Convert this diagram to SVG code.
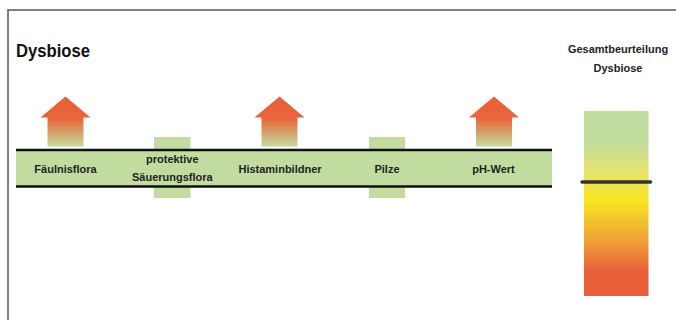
<svg xmlns="http://www.w3.org/2000/svg" width="676" height="320" viewBox="0 0 676 320">
<defs>
<linearGradient id="arrowGrad" x1="0" y1="0" x2="0" y2="1">
<stop offset="0" stop-color="#e9603a"/>
<stop offset="0.44" stop-color="#e9643a"/>
<stop offset="1" stop-color="#c4dc9c"/>
</linearGradient>
<linearGradient id="scaleGrad" x1="0" y1="0" x2="0" y2="1">
<stop offset="0" stop-color="#bfdba0"/>
<stop offset="0.17" stop-color="#c2dc9c"/>
<stop offset="0.34" stop-color="#e8e46a"/>
<stop offset="0.48" stop-color="#f8e622"/>
<stop offset="0.7" stop-color="#f0a236"/>
<stop offset="0.86" stop-color="#e9623a"/>
<stop offset="1" stop-color="#e9603a"/>
</linearGradient>
<path id="arrow" d="M0,0 L25,21 L18,21 L18,50 L-18,50 L-18,21 L-25,21 Z"/>
</defs>
<style>
.lbl{font-family:"Liberation Sans",Arial,sans-serif;font-weight:bold;font-size:11px;fill:#222;text-anchor:middle}
.title{font-family:"Liberation Sans",Arial,sans-serif;font-weight:bold;font-size:18px;fill:#111}
.tick{fill:#c2dca0}
.arr{fill:url(#arrowGrad)}
.rule{stroke:#111;stroke-width:2.5}
</style>
<rect x="8" y="10" width="720" height="400" fill="#fff" stroke="#555" stroke-width="1.5"/>
<text class="title" x="16" y="57" textLength="74" lengthAdjust="spacingAndGlyphs">Dysbiose</text>

<g id="connectors">
<rect x="154" y="137" width="36.5" height="61" class="tick"/>
<rect x="369" y="137" width="36" height="61" class="tick"/>
<rect x="16" y="150" width="536" height="37" fill="#c2dca0"/>
<line class="rule" x1="16" y1="150" x2="552" y2="150"/>
<line class="rule" x1="16" y1="186.5" x2="552" y2="186.5"/>
</g>

<g id="node-faeulnisflora">
<use href="#arrow" x="65.5" y="96.5" class="arr"/>
<text class="lbl" x="65.5" y="172.5">Fäulnisflora</text>
</g>
<g id="node-saeuerungsflora">
<text class="lbl" x="172.3" y="163">protektive</text>
<text class="lbl" x="172.3" y="180.5">Säuerungsflora</text>
</g>
<g id="node-histaminbildner">
<use href="#arrow" x="279.5" y="96.5" class="arr"/>
<text class="lbl" x="280" y="172.5">Histaminbildner</text>
</g>
<g id="node-pilze">
<text class="lbl" x="387" y="172.5">Pilze</text>
</g>
<g id="node-phwert">
<use href="#arrow" x="494" y="96.5" class="arr"/>
<text class="lbl" x="493.5" y="172.5">pH-Wert</text>
</g>

<g id="node-gesamt">
<text class="lbl" x="618" y="52.5" font-size="12.5">Gesamtbeurteilung</text>
<text class="lbl" x="618" y="71.5" font-size="12.5">Dysbiose</text>
<rect x="584" y="111" width="64.5" height="185" fill="url(#scaleGrad)"/>
<line x1="582" y1="182" x2="650.5" y2="182" stroke="#333" stroke-width="3.5" stroke-linecap="round"/>
</g>
</svg>
